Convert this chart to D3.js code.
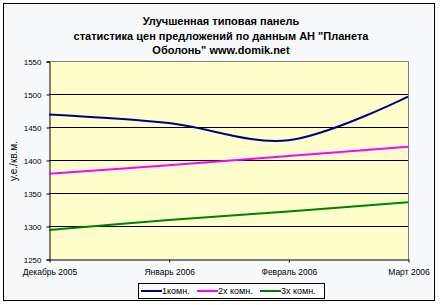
<!DOCTYPE html>
<html>
<head>
<meta charset="utf-8">
<script src="https://cdn.jsdelivr.net/npm/d3@7"></script>
<style>
  body { margin: 0; background: #fff; }
  text { font-family: Arial, "Liberation Sans", sans-serif; }
</style>
</head>
<body>
<div id="chart"></div>
<script>
var months = ["Декабрь 2005", "Январь 2006", "Февраль 2006", "Март 2006"];
var oneRoom = [1469, 1456, 1430, 1496];
var twoRoom = [1379, 1392, 1406, 1420];
var threeRoom = [1294, 1309, 1322, 1336];
var seriesNames = ["1комн.", "2х комн.", "3х комн."];
var yTicks = [1250, 1300, 1350, 1400, 1450, 1500, 1550];
var titleLines = ["Улучшенная типовая панель",
    "статистика цен предложений по данным АН \"Планета",
    "Оболонь\" www.domik.net"];

function init() {
    var w = 442, h = 305;
    var left = 49, right = 408, top = 61, bottom = 259;

    var svg = d3.select("#chart").append("svg")
        .attr("width", w)
        .attr("height", h);

    // chart area frame
    svg.append("rect")
        .attr("x", 3.5).attr("y", 3.5)
        .attr("width", 431).attr("height", 297)
        .attr("fill", "#f8f9fb")
        .attr("stroke", "#000");

    // title
    svg.append("text")
        .attr("text-anchor", "middle")
        .attr("font-size", "11px")
        .attr("font-weight", "bold")
        .selectAll("tspan")
        .data(titleLines)
        .enter()
        .append("tspan")
        .attr("x", 221)
        .attr("y", function (d, i) { return 25 + i * 14.5; })
        .text(function (d) { return d; });

    var x = d3.scalePoint().domain(months).range([left, right]);
    var y = d3.scaleLinear().domain([1250, 1550]).range([bottom, top]);

    svg.append("rect")
        .attr("x", left).attr("y", top)
        .attr("width", right - left).attr("height", bottom - top)
        .attr("fill", "#ffffcc");

    // gridlines
    svg.append("g")
        .selectAll("line")
        .data(yTicks.slice(1, -1))
        .enter()
        .append("line")
        .attr("x1", left).attr("x2", right)
        .attr("y1", function (d) { return Math.round(y(d)) + 0.5; })
        .attr("y2", function (d) { return Math.round(y(d)) + 0.5; })
        .attr("stroke", "#000");

    // top and right border of plot
    svg.append("path")
        .attr("d", "M" + left + "," + (top + 0.5) + "H" + (right + 0.5) + "V" + bottom)
        .attr("fill", "none")
        .attr("stroke", "#808080");

    var yAxis = svg.append("g")
        .attr("transform", "translate(" + (left + 0.5) + ",0.5)")
        .call(d3.axisLeft(y).tickValues(yTicks).tickSize(3).tickPadding(5).tickFormat(d3.format("d")));
    yAxis.select(".domain").attr("stroke", "#000");
    yAxis.selectAll("text").attr("font-size", "8px").attr("fill", "#000")
        .attr("font-family", "Arial, 'Liberation Sans', sans-serif");

    var xAxis = svg.append("g")
        .attr("transform", "translate(0.5," + (bottom + 0.5) + ")")
        .call(d3.axisBottom(x).tickSizeInner(3).tickSizeOuter(0).tickPadding(6));
    xAxis.select(".domain").attr("stroke", "#000");
    xAxis.selectAll("text").attr("font-size", "8.5px").attr("fill", "#000")
        .attr("font-family", "Arial, 'Liberation Sans', sans-serif");

    // y title
    svg.append("text")
        .attr("transform", "translate(17,161) rotate(-90)")
        .attr("text-anchor", "middle")
        .attr("font-size", "10px")
        .text("у.е./кв.м.");

    var series = [
        { name: seriesNames[0], values: oneRoom, color: "#000080" },
        { name: seriesNames[1], values: twoRoom, color: "#ff00ff" },
        { name: seriesNames[2], values: threeRoom, color: "#008000" }
    ];

    var line = d3.line()
        .x(function (d, i) { return x(months[i]); })
        .y(function (d) { return y(d); })
        .curve(d3.curveCatmullRom.alpha(0));

    svg.append("g")
        .selectAll("path")
        .data(series)
        .enter()
        .append("path")
        .attr("d", function (d) { return line(d.values); })
        .attr("fill", "none")
        .attr("stroke", function (d) { return d.color; })
        .attr("stroke-width", 2);

    // legend
    var lg = svg.append("g");
    lg.append("rect")
        .attr("x", 138.5).attr("y", 283.5)
        .attr("width", 186).attr("height", 15)
        .attr("fill", "#fff")
        .attr("stroke", "#000");
    var starts = [141, 197, 260];
    var items = lg.selectAll("g")
        .data(series)
        .enter()
        .append("g")
        .attr("transform", function (d, i) { return "translate(" + starts[i] + ",291)"; });
    items.append("line")
        .attr("x1", 0).attr("x2", 21)
        .attr("stroke", function (d) { return d.color; })
        .attr("stroke-width", 2);
    items.append("text")
        .attr("x", 21)
        .attr("dy", "0.35em")
        .attr("font-size", "9px")
        .text(function (d) { return d.name; });
}

window.onload = init;
</script>
</body>
</html>
